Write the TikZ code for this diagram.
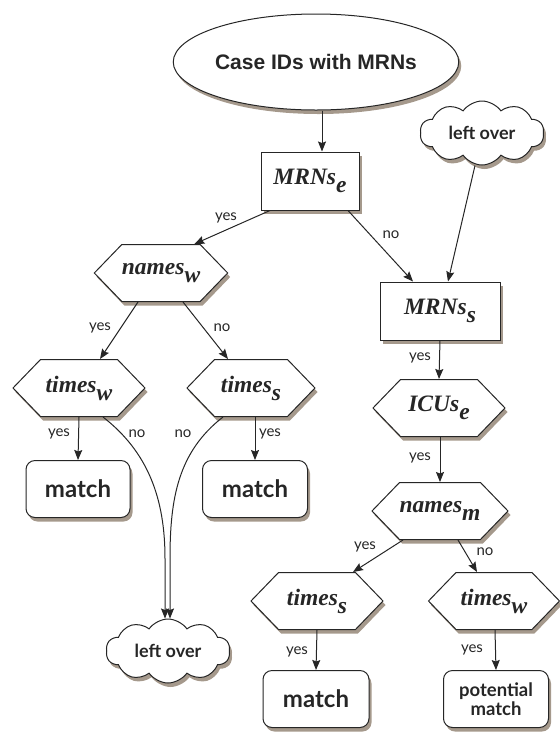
\documentclass[tikz,border=0pt]{standalone}
\usepackage{fontspec}
\setmainfont{Liberation Serif}
\newfontfamily\lblfont{Lato}
\newfontfamily\headfont{Liberation Sans}
\usetikzlibrary{shapes.geometric,shapes.symbols,shadows,arrows.meta}
\newcommand{\sub}[2]{#1\raisebox{-8pt}{#2}}
\begin{document}
\begin{tikzpicture}[x=1pt,y=-1pt,
  shad/.style={drop shadow={shadow xshift=2.5pt,shadow yshift=-4pt,fill=brown!40!black,opacity=.5}},
  base/.style={draw=black!85,line width=1pt,fill=white,shad,inner sep=0pt,text=black!85},
  hexa/.style={base,signal,signal to=east and west,signal pointer angle=92,minimum width=132pt,minimum height=57pt,font=\fontsize{23.5}{23.5}\selectfont\bfseries\itshape},
  boxa/.style={base,rectangle,minimum height=58pt,font=\fontsize{23.5}{23.5}\selectfont\bfseries\itshape},
  rbox/.style={base,rectangle,rounded corners=9pt,minimum width=105pt,minimum height=57pt,font=\lblfont\fontsize{24}{24}\selectfont\bfseries,align=center},
  cloudy/.style={base,cloud,cloud puffs=10,cloud puff arc=110,cloud ignores aspect,minimum width=124pt,minimum height=64pt,font=\lblfont\fontsize{18}{18}\selectfont\bfseries},
  lbl/.style={font=\lblfont\fontsize{15}{15}\selectfont,text=black!85,inner sep=0pt},
  arr/.style={draw=black!85,line width=1pt,-{Stealth[length=10pt,width=8pt,inset=1.5pt]}}
]
\useasboundingbox (0,0) rectangle (560,732);
% nodes
\node[base,ellipse,minimum width=230pt,minimum height=96pt,font=\headfont\fontsize{21}{21}\selectfont\bfseries] (start) at (316,62) {Case IDs with MRNs};
\node[boxa,minimum width=98pt] (me) at (310,181) {\sub{MRNs}{e}};
\node[cloudy] (lo1) at (482,133) {left over};
\node[hexa] (nw) at (161,273) {\sub{names}{w}};
\node[hexa] (tw1) at (79,388) {\sub{times}{w}};
\node[hexa,minimum width=128pt] (ts1) at (251,388) {\sub{times}{s}};
\node[rbox,minimum width=104pt] (m1) at (78,489) {match};
\node[rbox] (m2) at (255,489) {match};
\node[boxa,minimum width=120pt] (ms) at (440,311) {\sub{MRNs}{s}};
\node[hexa] (ie) at (439,408) {\sub{ICUs}{e}};
\node[hexa] (nm) at (440,511) {\sub{names}{m}};
\node[hexa] (ts2) at (317,601) {\sub{times}{s}};
\node[hexa,minimum width=131pt] (tw2) at (494,601) {\sub{times}{w}};
\node[rbox,minimum width=106pt] (m3) at (316,699) {match};
\node[rbox,font=\lblfont\fontsize{18.5}{19.5}\selectfont\bfseries] (pm) at (496,699) {potential\\match};
\node[cloudy] (lo2) at (168,651) {left over};
% connectors
\draw[arr] ([xshift=6pt]start.south) -- ([xshift=12pt]me.north);
\draw[arr] ([xshift=-40pt]me.south) -- ([xshift=-6pt]nw.north east);
\draw[arr] ([xshift=38pt]me.south) -- ([xshift=-27pt]ms.north);
\draw[arr] ([xshift=-7pt]lo1.south) -- ([xshift=8pt]ms.north);
\draw[arr] ([xshift=-23pt]nw.south) -- ([xshift=21pt]tw1.north);
\draw[arr] ([xshift=22pt]nw.south) -- ([xshift=-23pt]ts1.north);
\draw[arr] (tw1.south) -- (m1.north);
\draw[arr] ([xshift=4pt]ts1.south) -- (m2.north);
\draw[arr] (ms.south) -- (ie.north);
\draw[arr] ([xshift=1pt]ie.south) -- (nm.north);
\draw[arr] ([xshift=-37pt]nm.south) -- ([xshift=36pt]ts2.north);
\draw[arr] ([xshift=18pt]nm.south) -- ([xshift=-17pt]tw2.north);
\draw[arr] (ts2.south) -- (m3.north);
\draw[arr] ([xshift=1pt]tw2.south) -- (pm.north);
\draw[arr] ([xshift=24pt]tw1.south) .. controls +(45,35) and +(0,-60) .. ([xshift=-3pt,yshift=60pt]lo2.north) -- ([xshift=-3pt]lo2.north);
\draw[arr] ([xshift=-28pt]ts1.south) .. controls +(-45,35) and +(0,-60) .. ([xshift=2pt,yshift=60pt]lo2.north) -- ([xshift=2pt]lo2.north);
% labels
\node[lbl] (l1) at (226,218) {yes};
\node[lbl] (l2) at (391,235) {no};
\node[lbl] (l3) at (100,328) {yes};
\node[lbl] (l4) at (222,328) {no};
\node[lbl] (l5) at (59,434) {yes};
\node[lbl] (l6) at (137,434) {no};
\node[lbl] (l7) at (183,434) {no};
\node[lbl] (l8) at (270,434) {yes};
\node[lbl] (l9) at (420,358) {yes};
\node[lbl] (l10) at (420,458) {yes};
\node[lbl] (l11) at (365,547) {yes};
\node[lbl] (l12) at (485,552) {no};
\node[lbl] (l13) at (297,652) {yes};
\node[lbl] (l14) at (472,650) {yes};
\end{tikzpicture}
\end{document}
